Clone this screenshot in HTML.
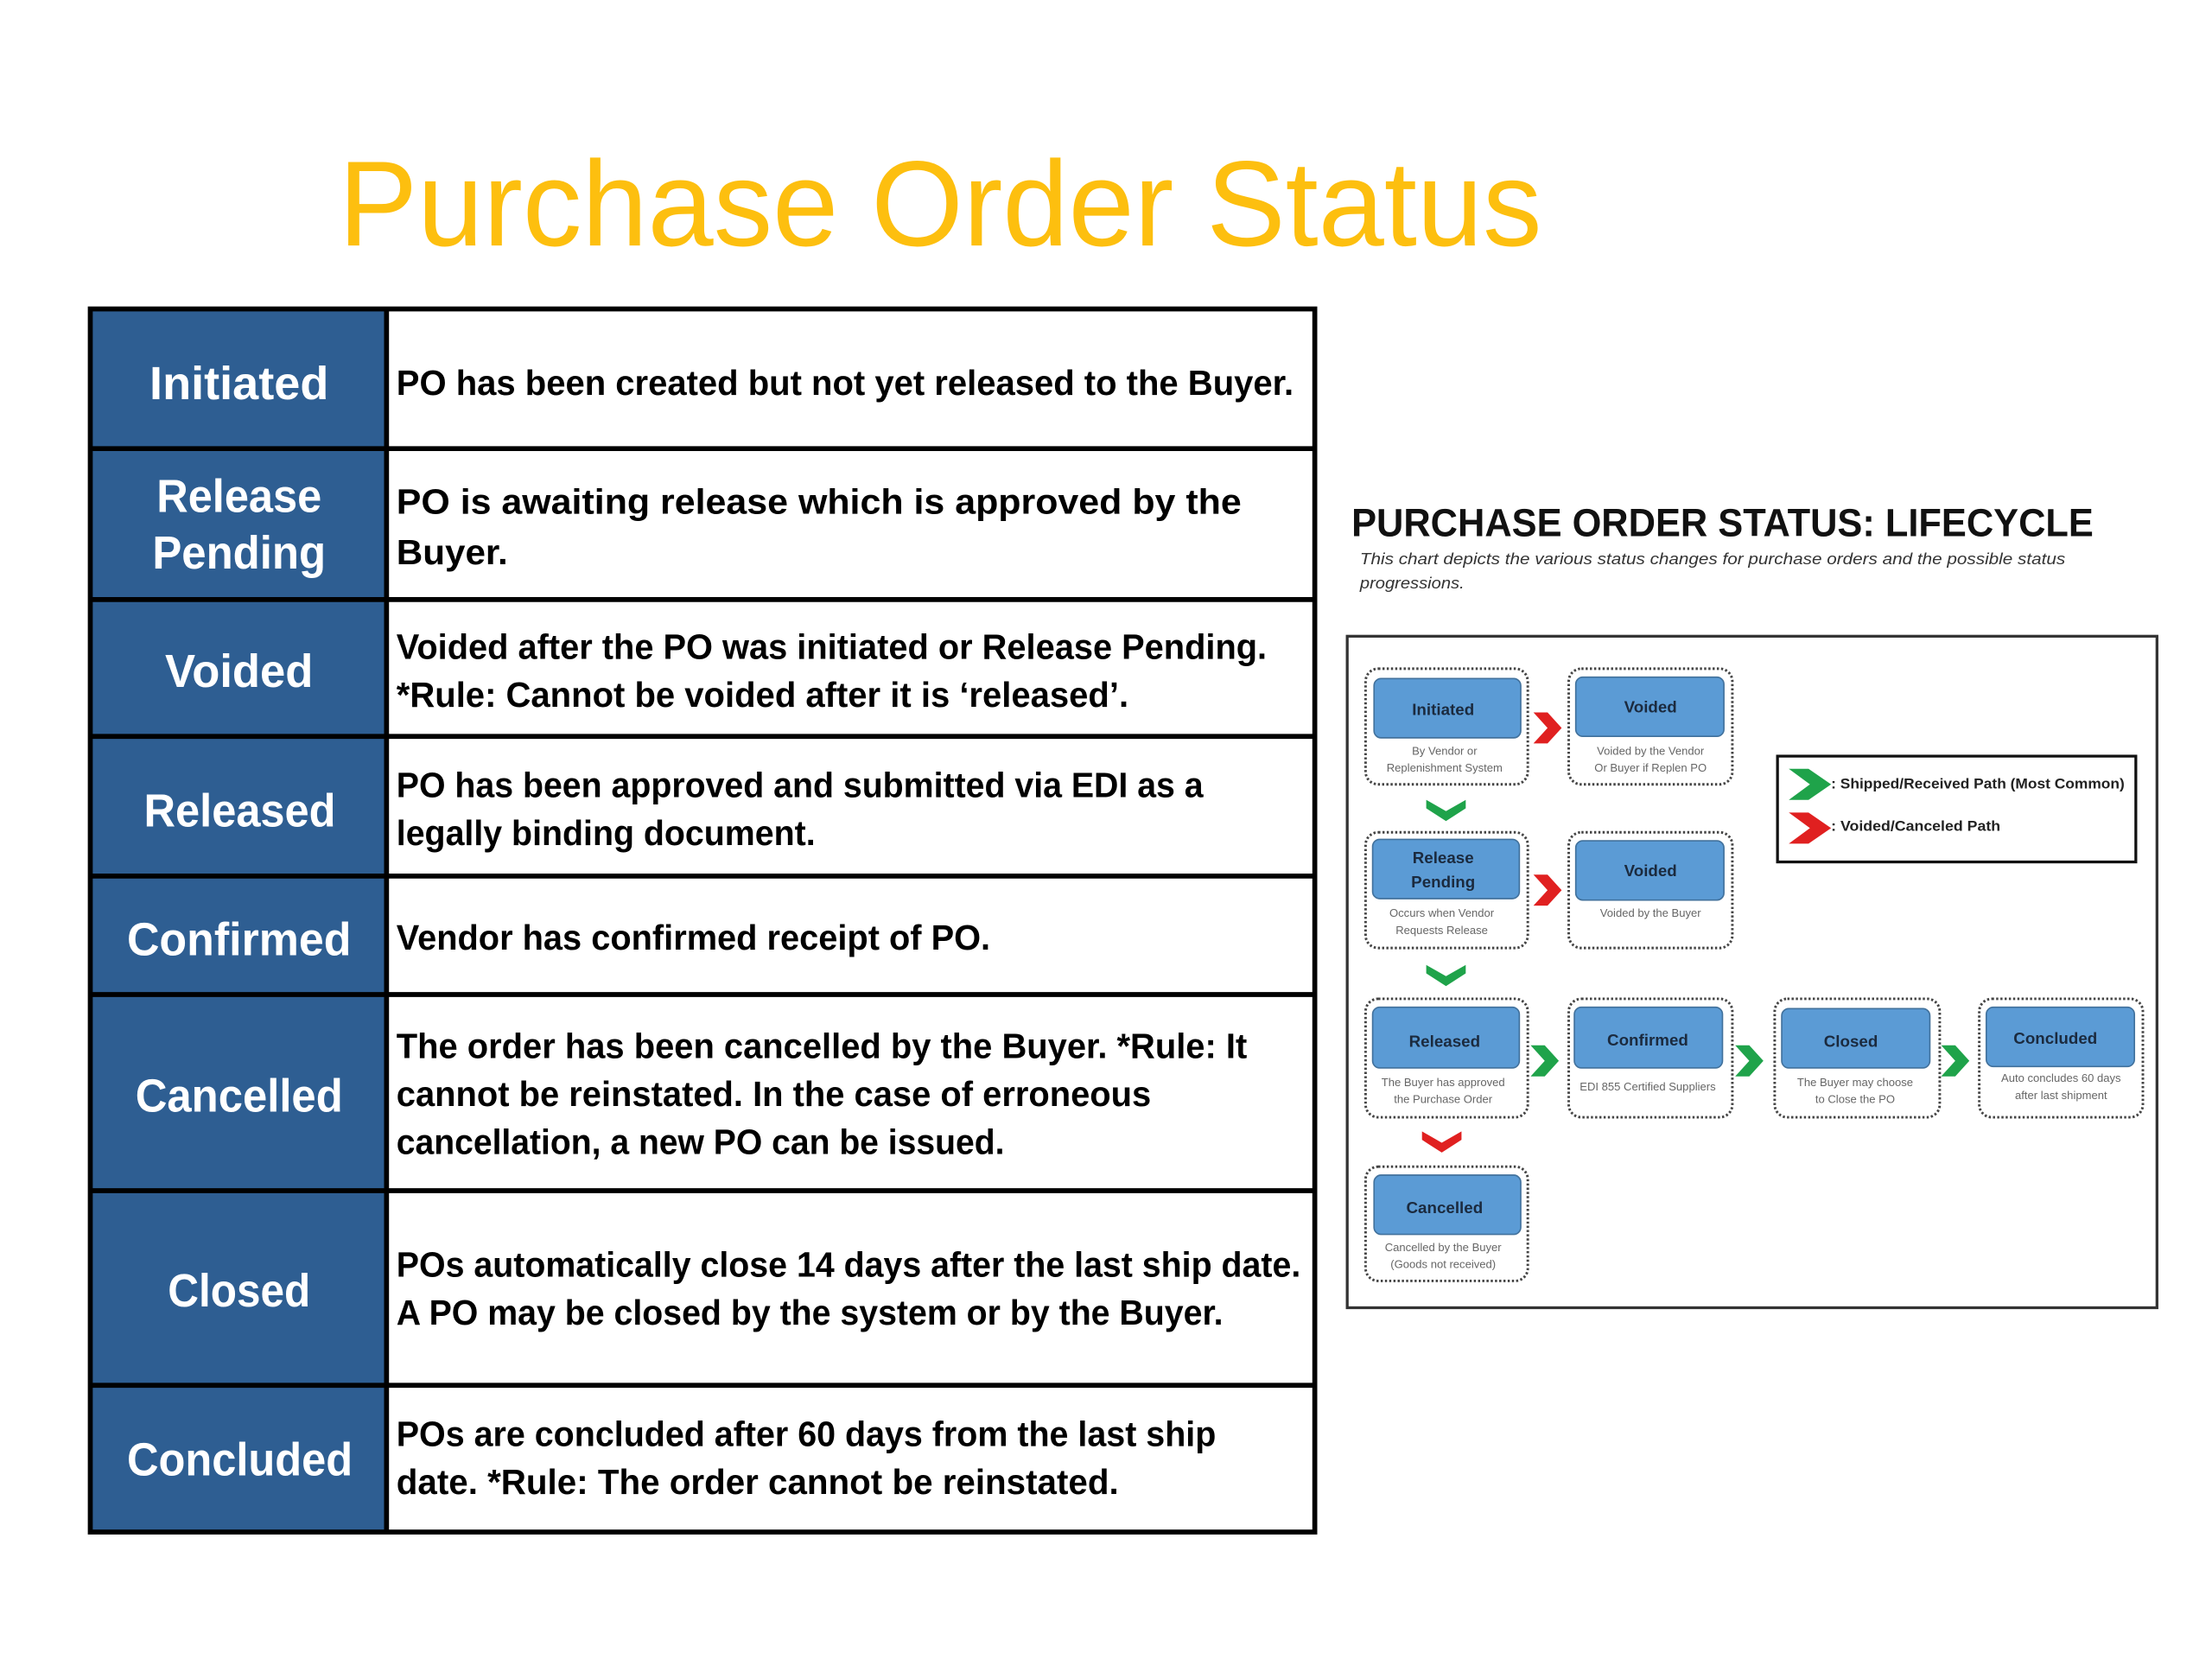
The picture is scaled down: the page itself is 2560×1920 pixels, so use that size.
<!DOCTYPE html>
<html><head><meta charset="utf-8"><style>
html,body{margin:0;padding:0;background:#fff}
svg{display:block}
text{font-family:"Liberation Sans",sans-serif}
.lb{fill:#fff;font-weight:bold;font-size:33px}
.ds{fill:#000;font-weight:bold;font-size:25px}
.nt{fill:#1b2a3e;font-weight:bold;font-size:11.5px}
.ns{fill:#666;font-size:8px}
</style></head><body>
<svg width="2560" height="1920" viewBox="0 0 1568 1176" xmlns="http://www.w3.org/2000/svg">
<rect width="1568" height="1176" fill="#fff"/>
<text x="240" y="174" font-size="86" fill="#FDBF0F" textLength="853" lengthAdjust="spacingAndGlyphs">Purchase Order Status</text>

<!-- table -->
<rect x="64" y="219" width="210" height="867" fill="#2E5E92"/>
<g stroke="#000" stroke-width="3.5" fill="none">
<rect x="64" y="219" width="868" height="867"/>
<line x1="274" y1="219" x2="274" y2="1086"/>
<line x1="64" y1="318" x2="932" y2="318"/>
<line x1="64" y1="425" x2="932" y2="425"/>
<line x1="64" y1="522" x2="932" y2="522"/>
<line x1="64" y1="621" x2="932" y2="621"/>
<line x1="64" y1="705" x2="932" y2="705"/>
<line x1="64" y1="844" x2="932" y2="844"/>
<line x1="64" y1="982" x2="932" y2="982"/>
</g>
<text class="lb" x="106" y="283" textLength="127" lengthAdjust="spacingAndGlyphs">Initiated</text>
<text class="lb" x="111" y="363" textLength="117" lengthAdjust="spacingAndGlyphs">Release</text>
<text class="lb" x="108" y="403" textLength="123" lengthAdjust="spacingAndGlyphs">Pending</text>
<text class="lb" x="117" y="487" textLength="105" lengthAdjust="spacingAndGlyphs">Voided</text>
<text class="lb" x="102" y="586" textLength="136" lengthAdjust="spacingAndGlyphs">Released</text>
<text class="lb" x="90" y="677" textLength="159" lengthAdjust="spacingAndGlyphs">Confirmed</text>
<text class="lb" x="96" y="788" textLength="147" lengthAdjust="spacingAndGlyphs">Cancelled</text>
<text class="lb" x="119" y="926" textLength="101" lengthAdjust="spacingAndGlyphs">Closed</text>
<text class="lb" x="90" y="1046" textLength="160" lengthAdjust="spacingAndGlyphs">Concluded</text>

<text class="ds" x="281" y="280" textLength="636" lengthAdjust="spacingAndGlyphs">PO has been created but not yet released to the Buyer.</text>
<text class="ds" x="281" y="364" textLength="599" lengthAdjust="spacingAndGlyphs">PO is awaiting release which is approved by the</text>
<text class="ds" x="281" y="400" textLength="79" lengthAdjust="spacingAndGlyphs">Buyer.</text>
<text class="ds" x="281" y="467" textLength="617" lengthAdjust="spacingAndGlyphs">Voided after the PO was initiated or Release Pending.</text>
<text class="ds" x="281" y="501" textLength="519" lengthAdjust="spacingAndGlyphs">*Rule: Cannot be voided after it is ‘released’.</text>
<text class="ds" x="281" y="565" textLength="572" lengthAdjust="spacingAndGlyphs">PO has been approved and submitted via EDI as a</text>
<text class="ds" x="281" y="599" textLength="297" lengthAdjust="spacingAndGlyphs">legally binding document.</text>
<text class="ds" x="281" y="673" textLength="421" lengthAdjust="spacingAndGlyphs">Vendor has confirmed receipt of PO.</text>
<text class="ds" x="281" y="750" textLength="603" lengthAdjust="spacingAndGlyphs">The order has been cancelled by the Buyer. *Rule: It</text>
<text class="ds" x="281" y="784" textLength="535" lengthAdjust="spacingAndGlyphs">cannot be reinstated. In the case of erroneous</text>
<text class="ds" x="281" y="818" textLength="431" lengthAdjust="spacingAndGlyphs">cancellation, a new PO can be issued.</text>
<text class="ds" x="281" y="905" textLength="641" lengthAdjust="spacingAndGlyphs">POs automatically close 14 days after the last ship date.</text>
<text class="ds" x="281" y="939" textLength="586" lengthAdjust="spacingAndGlyphs">A PO may be closed by the system or by the Buyer.</text>
<text class="ds" x="281" y="1025" textLength="581" lengthAdjust="spacingAndGlyphs">POs are concluded after 60 days from the last ship</text>
<text class="ds" x="281" y="1059" textLength="512" lengthAdjust="spacingAndGlyphs">date. *Rule: The order cannot be reinstated.</text>

<!-- right panel -->
<text x="958" y="380" font-size="28" font-weight="bold" fill="#111" textLength="526" lengthAdjust="spacingAndGlyphs">PURCHASE ORDER STATUS: LIFECYCLE</text>
<text x="964" y="400" font-size="11.5" font-style="italic" fill="#333" textLength="500" lengthAdjust="spacingAndGlyphs">This chart depicts the various status changes for purchase orders and the possible status</text>
<text x="964" y="417" font-size="11.5" font-style="italic" fill="#333" textLength="74" lengthAdjust="spacingAndGlyphs">progressions.</text>

<rect x="955" y="451" width="574" height="476" fill="#fff" stroke="#333" stroke-width="2"/>

<g fill="none" stroke="#444" stroke-width="1.8" stroke-dasharray="1.5 1.5">
<rect x="968" y="474" width="115" height="82" rx="9"/>
<rect x="1112" y="474" width="116" height="82" rx="9"/>
<rect x="968" y="590" width="115" height="82" rx="9"/>
<rect x="1112" y="590" width="116" height="82" rx="9"/>
<rect x="968" y="708" width="115" height="84" rx="9"/>
<rect x="1112" y="708" width="116" height="84" rx="9"/>
<rect x="1258" y="708" width="117" height="84" rx="9"/>
<rect x="1403" y="708" width="116" height="84" rx="9"/>
<rect x="968" y="827" width="115" height="81" rx="9"/>
</g>
<g fill="#5B9BD5" stroke="#41719C" stroke-width="1">
<rect x="974" y="481" width="104" height="42" rx="5"/>
<rect x="1117" y="480" width="105" height="42" rx="5"/>
<rect x="973" y="595" width="104" height="42" rx="5"/>
<rect x="1117" y="596" width="105" height="42" rx="5"/>
<rect x="973" y="714" width="104" height="43" rx="5"/>
<rect x="1116" y="714" width="105" height="43" rx="5"/>
<rect x="1263" y="715" width="105" height="42" rx="5"/>
<rect x="1408" y="714" width="105" height="42" rx="5"/>
<rect x="974" y="833" width="104" height="42" rx="5"/>
</g>
<g text-anchor="middle">
<text class="nt" x="1023" y="507">Initiated</text>
<text class="nt" x="1170" y="505">Voided</text>
<text class="nt" x="1023" y="612">Release</text>
<text class="nt" x="1023" y="629">Pending</text>
<text class="nt" x="1170" y="621">Voided</text>
<text class="nt" x="1024" y="742">Released</text>
<text class="nt" x="1168" y="741">Confirmed</text>
<text class="nt" x="1312" y="742">Closed</text>
<text class="nt" x="1457" y="740">Concluded</text>
<text class="nt" x="1024" y="860">Cancelled</text>
<text class="ns" x="1024" y="535">By Vendor or</text>
<text class="ns" x="1024" y="547">Replenishment System</text>
<text class="ns" x="1170" y="535">Voided by the Vendor</text>
<text class="ns" x="1170" y="547">Or Buyer if Replen PO</text>
<text class="ns" x="1022" y="650">Occurs when Vendor</text>
<text class="ns" x="1022" y="662">Requests Release</text>
<text class="ns" x="1170" y="650">Voided by the Buyer</text>
<text class="ns" x="1023" y="770">The Buyer has approved</text>
<text class="ns" x="1023" y="782">the Purchase Order</text>
<text class="ns" x="1168" y="773">EDI 855 Certified Suppliers</text>
<text class="ns" x="1315" y="770">The Buyer may choose</text>
<text class="ns" x="1315" y="782">to Close the PO</text>
<text class="ns" x="1461" y="767">Auto concludes 60 days</text>
<text class="ns" x="1461" y="779">after last shipment</text>
<text class="ns" x="1023" y="887">Cancelled by the Buyer</text>
<text class="ns" x="1023" y="899">(Goods not received)</text>
</g>

<!-- chevrons -->
<g>
<polygon fill="#E02020" points="1087,505 1097,505 1107,516 1097,527 1087,527 1097,516"/>
<polygon fill="#E02020" points="1087,620 1097,620 1107,631 1097,642 1087,642 1097,631"/>
<polygon fill="#1FA34A" points="1085,741 1095,741 1105,752 1095,763 1085,763 1095,752"/>
<polygon fill="#1FA34A" points="1230,741 1240,741 1250,752 1240,763 1230,763 1240,752"/>
<polygon fill="#1FA34A" points="1376,741 1386,741 1396,752 1386,763 1376,763 1386,752"/>
<polygon fill="#1FA34A" points="1011,567 1025,575 1039,567 1039,573 1025,582 1011,573"/>
<polygon fill="#1FA34A" points="1011,684 1025,692 1039,684 1039,690 1025,699 1011,690"/>
<polygon fill="#E02020" points="1008,802 1022,810 1036,802 1036,808 1022,817 1008,808"/>
</g>

<!-- legend -->
<rect x="1260" y="536" width="254" height="75" fill="#fff" stroke="#111" stroke-width="2"/>
<polygon fill="#1FA34A" points="1268,545 1282,545 1298,556 1282,567 1268,567 1283,556"/>
<polygon fill="#E02020" points="1268,576 1282,576 1298,587 1282,598 1268,598 1283,587"/>
<text x="1298" y="559" font-size="10" font-weight="bold" fill="#222" textLength="208" lengthAdjust="spacingAndGlyphs">: Shipped/Received Path (Most Common)</text>
<text x="1298" y="589" font-size="10" font-weight="bold" fill="#222" textLength="120" lengthAdjust="spacingAndGlyphs">: Voided/Canceled Path</text>
</svg>
</body></html>
